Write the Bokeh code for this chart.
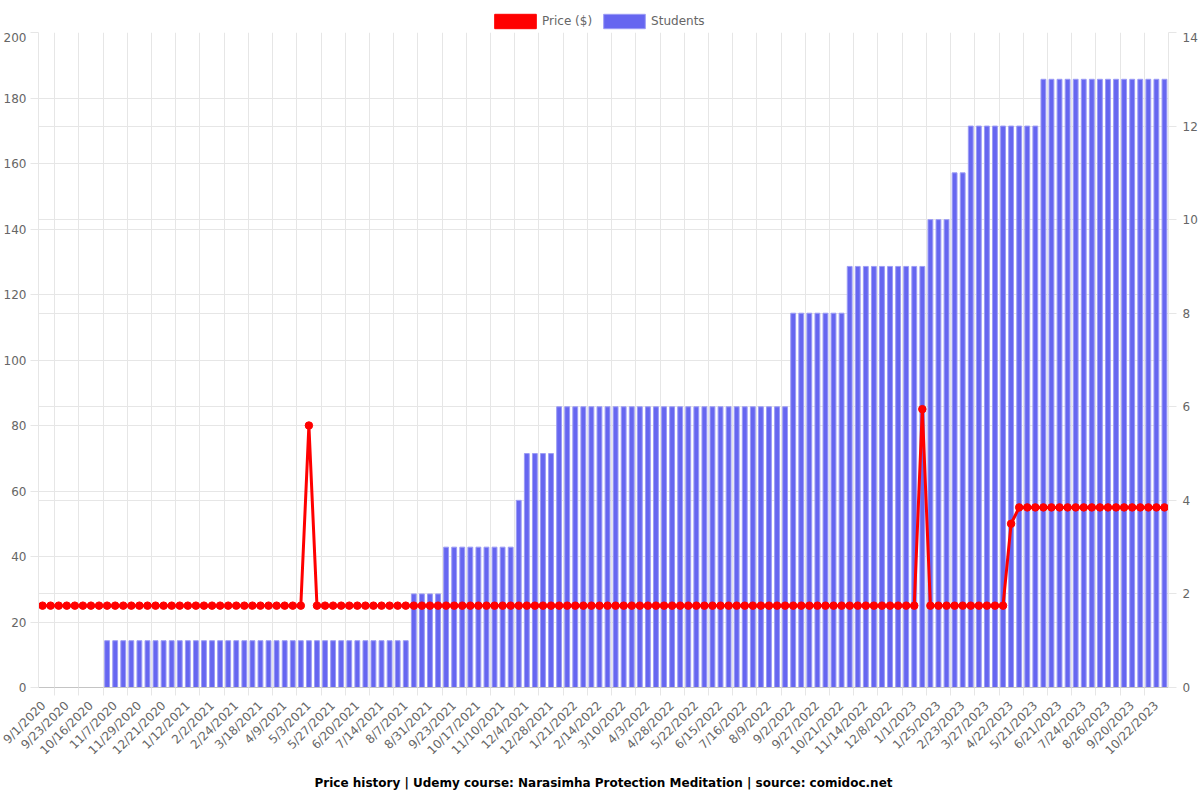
import math
from bokeh.plotting import figure
from bokeh.layouts import column
from bokeh.models import (Range1d, LinearAxis, FixedTicker, Grid, Legend, LegendItem,
                          ColumnDataSource, Title)
from bokeh.embed import file_html
from bokeh.resources import INLINE

# ---- data ----
tick_labels = [
    "9/1/2020", "9/23/2020", "10/16/2020", "11/7/2020", "11/29/2020", "12/21/2020",
    "1/12/2021", "2/2/2021", "2/24/2021", "3/18/2021", "4/9/2021", "5/3/2021",
    "5/27/2021", "6/20/2021", "7/14/2021", "8/7/2021", "8/31/2021", "9/23/2021",
    "10/17/2021", "11/10/2021", "12/4/2021", "12/28/2021", "1/21/2022", "2/14/2022",
    "3/10/2022", "4/3/2022", "4/28/2022", "5/22/2022", "6/15/2022", "7/16/2022",
    "8/9/2022", "9/2/2022", "9/27/2022", "10/21/2022", "11/14/2022", "12/8/2022",
    "1/1/2023", "1/25/2023", "2/23/2023", "3/27/2023", "4/22/2023", "5/21/2023",
    "6/21/2023", "7/24/2023", "8/26/2023", "9/20/2023", "10/22/2023",
]

price = [
    25, 25, 25, 25, 25, 25, 25, 25, 25, 25,
    25, 25, 25, 25, 25, 25, 25, 25, 25, 25,
    25, 25, 25, 25, 25, 25, 25, 25, 25, 25,
    25, 25, 25, 80, 25, 25, 25, 25, 25, 25,
    25, 25, 25, 25, 25, 25, 25, 25, 25, 25,
    25, 25, 25, 25, 25, 25, 25, 25, 25, 25,
    25, 25, 25, 25, 25, 25, 25, 25, 25, 25,
    25, 25, 25, 25, 25, 25, 25, 25, 25, 25,
    25, 25, 25, 25, 25, 25, 25, 25, 25, 25,
    25, 25, 25, 25, 25, 25, 25, 25, 25, 25,
    25, 25, 25, 25, 25, 25, 25, 25, 25, 85,
    25, 25, 25, 25, 25, 25, 25, 25, 25, 25,
    50, 55, 55, 55, 55, 55, 55, 55, 55, 55,
    55, 55, 55, 55, 55, 55, 55, 55, 55, 55,
]

students = [
    0, 0, 0, 0, 0, 0, 0, 0, 1, 1,
    1, 1, 1, 1, 1, 1, 1, 1, 1, 1,
    1, 1, 1, 1, 1, 1, 1, 1, 1, 1,
    1, 1, 1, 1, 1, 1, 1, 1, 1, 1,
    1, 1, 1, 1, 1, 1, 2, 2, 2, 2,
    3, 3, 3, 3, 3, 3, 3, 3, 3, 4,
    5, 5, 5, 5, 6, 6, 6, 6, 6, 6,
    6, 6, 6, 6, 6, 6, 6, 6, 6, 6,
    6, 6, 6, 6, 6, 6, 6, 6, 6, 6,
    6, 6, 6, 8, 8, 8, 8, 8, 8, 8,
    9, 9, 9, 9, 9, 9, 9, 9, 9, 9,
    10, 10, 10, 11, 11, 12, 12, 12, 12, 12,
    12, 12, 12, 12, 13, 13, 13, 13, 13, 13,
    13, 13, 13, 13, 13, 13, 13, 13, 13, 13,
]

left_ticks = [0, 20, 40, 60, 80, 100, 120, 140, 160, 180, 200]
right_ticks = [0, 2, 4, 6, 8, 10, 12, 14]

# ---- build ----
n = len(price)
xs = list(range(n))
src = ColumnDataSource(dict(x=xs, price=price, students=students))

label_pos = [3 * k for k in range(len(tick_labels))]
grid_pos = [3 * k + 1.5 for k in range(len(tick_labels) - 1)]

FONT = "DejaVu Sans"
GRID = "#e6e6e6"
TXT = "#666666"
BAR_FILL = "#6666f0"
BAR_LINE = "#9c9cf5"
RED = "#ff0000"

p = figure(width=1200, height=768, output_backend="svg", toolbar_location=None,
           title=None,
           x_range=Range1d(-0.5, n - 0.5), y_range=Range1d(0, 200),
           min_border_left=38, min_border_right=30, min_border_top=0,
           min_border_bottom=113)
p.extra_y_ranges = {"students": Range1d(0, 14)}
p.outline_line_color = None
p.background_fill_color = "white"
p.border_fill_color = "white"

bars = p.vbar(x="x", top="students", width=0.6, source=src, y_range_name="students",
              fill_color=BAR_FILL, line_color=BAR_LINE, line_width=1)
p.line(x="x", y="price", source=src, line_color=RED, line_width=3)
p.scatter(x="x", y="price", source=src, size=7.5, fill_color=RED, line_color=RED)

# x axis
xa = p.xaxis[0]
xa.ticker = FixedTicker(ticks=label_pos, minor_ticks=grid_pos)
xa.major_label_overrides = {pos: lab for pos, lab in zip(label_pos, tick_labels)}
xa.major_label_orientation = math.pi / 4
xa.major_tick_out = 0
xa.major_tick_in = 0
xa.minor_tick_out = 8
xa.minor_tick_in = 0
xa.minor_tick_line_color = GRID
xa.axis_line_color = "#c4c4c4"
xa.major_label_text_font = FONT
xa.major_label_text_font_size = "12px"
xa.major_label_text_color = TXT
xa.major_label_standoff = 8

p.xgrid[0].ticker = FixedTicker(ticks=grid_pos)
p.xgrid[0].grid_line_color = GRID

# left axis
ya = p.yaxis[0]
ya.ticker = FixedTicker(ticks=left_ticks)
ya.major_tick_out = 8
ya.major_tick_in = 0
ya.minor_tick_out = 0
ya.minor_tick_in = 0
ya.major_tick_line_color = GRID
ya.axis_line_color = GRID
ya.major_label_text_font = FONT
ya.major_label_text_font_size = "12px"
ya.major_label_text_color = TXT
ya.major_label_standoff = 4
p.ygrid[0].ticker = FixedTicker(ticks=left_ticks)
p.ygrid[0].grid_line_color = GRID

# right axis
ra = LinearAxis(y_range_name="students", ticker=FixedTicker(ticks=right_ticks))
ra.major_tick_out = 8
ra.major_tick_in = 0
ra.minor_tick_out = 0
ra.minor_tick_in = 0
ra.major_tick_line_color = GRID
ra.axis_line_color = GRID
ra.major_label_text_font = FONT
ra.major_label_text_font_size = "12px"
ra.major_label_text_color = TXT
ra.major_label_standoff = 6
p.add_layout(ra, "right")
rgrid = Grid(dimension=1, ticker=FixedTicker(ticks=right_ticks), y_range_name="students",
             grid_line_color=GRID)
p.add_layout(rgrid)

# bottom title
title = Title(text="Price history | Udemy course: Narasimha Protection Meditation | source: comidoc.net",
              align="center", text_font=FONT, text_font_size="12px", text_font_style="bold",
              text_color="#000000", standoff=17)
p.add_layout(title, "below")

# ---- legend strip on top (separate small figure; proxy glyphs lie outside its ranges) ----
lg = figure(width=1200, height=32, output_backend="svg", toolbar_location=None,
            title=None, x_axis_location=None, y_axis_location=None,
            x_range=Range1d(1000, 1100), y_range=Range1d(1000, 1100),
            min_border=0)
lg.outline_line_color = None
lg.xgrid.visible = False
lg.ygrid.visible = False
proxy_price = lg.vbar(x="x", top="price", bottom="price", width=0, source=src,
                      fill_color=RED, line_color=RED, line_width=1)
proxy_students = lg.vbar(x="x", top="students", bottom="students", width=0, source=src,
                         fill_color=BAR_FILL, line_color=BAR_LINE, line_width=1)
# the frame of this strip is aligned with the main frame (left edge at 38px)
legend = Legend(items=[LegendItem(label="Price ($)", renderers=[proxy_price]),
                       LegendItem(label="Students", renderers=[proxy_students])],
                orientation="horizontal", location=(451, 2),
                glyph_width=52, glyph_height=18, label_standoff=1, spacing=6,
                padding=5, margin=0, border_line_color=None, background_fill_alpha=0,
                label_text_font=FONT, label_text_font_size="12px", label_text_color=TXT)
lg.add_layout(legend)

layout = column(lg, p, spacing=0)
open("out.html", "w").write(file_html(layout, INLINE))
